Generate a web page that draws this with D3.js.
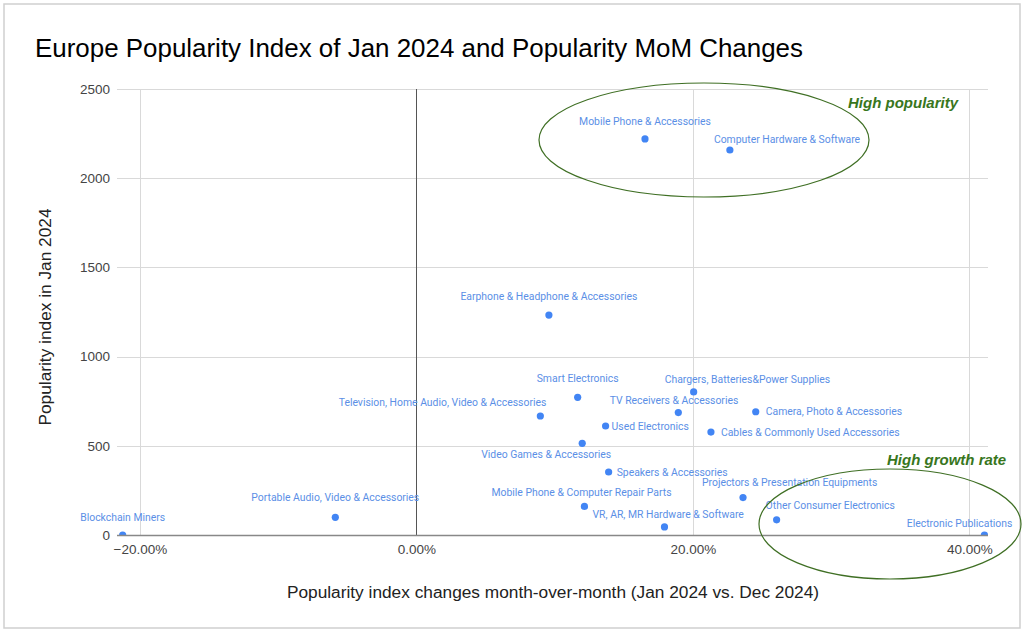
<!DOCTYPE html>
<html>
<head>
<meta charset="utf-8">
<script src="https://cdn.jsdelivr.net/npm/d3@7"></script>
<style>
  html, body { margin: 0; padding: 0; background: #fff; }
  svg { display: block; font-family: "Liberation Sans", Arial, sans-serif; }
</style>
</head>
<body>
<svg id="chart" width="1024" height="634"></svg>
<script>
// ---- data ----
const categories = [
  "Mobile Phone & Accessories",
  "Computer Hardware & Software",
  "Earphone & Headphone & Accessories",
  "Smart Electronics",
  "Television, Home Audio, Video & Accessories",
  "Used Electronics",
  "Video Games & Accessories",
  "Chargers, Batteries&Power Supplies",
  "TV Receivers & Accessories",
  "Camera, Photo & Accessories",
  "Cables & Commonly Used Accessories",
  "Speakers & Accessories",
  "Projectors & Presentation Equipments",
  "Mobile Phone & Computer Repair Parts",
  "VR, AR, MR Hardware & Software",
  "Other Consumer Electronics",
  "Electronic Publications",
  "Portable Audio, Video & Accessories",
  "Blockchain Miners"
];
const momChange = [0.1653, 0.2267, 0.0958, 0.1166, 0.0896, 0.1368, 0.1199, 0.2005, 0.1894, 0.2454, 0.2130, 0.1390, 0.2362, 0.1215, 0.1794, 0.2605, 0.4108, -0.0587, -0.2125];
const popularity = [2220, 2158, 1233, 772, 667, 611, 514, 802, 686, 691, 577, 353, 210, 160, 45, 85, 0, 99, 0];
const xTicks = [-0.2, 0, 0.2, 0.4];
const yTicks = [0, 500, 1000, 1500, 2000, 2500];
const annotations = ["High popularity", "High growth rate"];

// ---- label placement (layout only): [anchor, dx, dy] relative to the point ----
const labelPlacement = {
  "Mobile Phone & Accessories": ["middle", 0, -18],
  "Computer Hardware & Software": ["start", -16, -11],
  "Earphone & Headphone & Accessories": ["middle", 0, -19],
  "Smart Electronics": ["middle", 0, -19],
  "Television, Home Audio, Video & Accessories": ["end", 6, -14],
  "Used Electronics": ["start", 6, 0],
  "Video Games & Accessories": ["end", 29, 11],
  "Chargers, Batteries&Power Supplies": ["start", -29, -13],
  "TV Receivers & Accessories": ["end", 60, -12],
  "Camera, Photo & Accessories": ["start", 10, 0],
  "Cables & Commonly Used Accessories": ["start", 10, 0],
  "Speakers & Accessories": ["start", 8, 0],
  "Projectors & Presentation Equipments": ["start", -41, -15],
  "Mobile Phone & Computer Repair Parts": ["start", -93, -14],
  "VR, AR, MR Hardware & Software": ["start", -72, -13],
  "Other Consumer Electronics": ["start", -11, -14],
  "Electronic Publications": ["end", 28, -12],
  "Portable Audio, Video & Accessories": ["middle", 0, -20],
  "Blockchain Miners": ["middle", 0, -18]
};

const svg = d3.select("#chart");
const plot = { left: 117, right: 988, top: 89, bottom: 535 };

const x = d3.scaleLinear().domain([-0.2166, 0.4134]).range([plot.left, plot.right]);
const y = d3.scaleLinear().domain([0, 2500]).range([plot.bottom, plot.top]);

// outer frame
svg.append("rect").attr("x", 4).attr("y", 4).attr("width", 1016).attr("height", 624)
  .attr("fill", "#fff").attr("stroke", "#cfcfcf").attr("stroke-width", 1.5);

// title
svg.append("text").attr("x", 35).attr("y", 57)
  .attr("font-size", 25.5).attr("fill", "#000")
  .attr("textLength", 768).attr("lengthAdjust", "spacingAndGlyphs")
  .text("Europe Popularity Index of Jan 2024 and Popularity MoM Changes");

// grid
const grid = svg.append("g");
grid.selectAll("line.h").data(yTicks.filter(d => d > 0)).join("line")
  .attr("x1", plot.left).attr("x2", plot.right)
  .attr("y1", d => Math.round(y(d)) + 0.5).attr("y2", d => Math.round(y(d)) + 0.5)
  .attr("stroke", "#d9d9d9").attr("stroke-width", 1);
grid.selectAll("line.v").data(xTicks.filter(d => d !== 0)).join("line")
  .attr("y1", plot.top).attr("y2", plot.bottom)
  .attr("x1", d => Math.round(x(d)) + 0.5).attr("x2", d => Math.round(x(d)) + 0.5)
  .attr("stroke", "#d9d9d9").attr("stroke-width", 1);

// axes via d3
const xAxis = d3.axisBottom(x).tickValues(xTicks).tickFormat(d3.format(".2%")).tickSize(0).tickPadding(9);
const gx = svg.append("g").attr("transform", `translate(0,${plot.bottom})`).call(xAxis);
gx.select(".domain").remove();
gx.selectAll("text").attr("font-size", 13.5).attr("fill", "#444").attr("font-family", "Liberation Sans, Arial, sans-serif");

const yAxis = d3.axisLeft(y).tickValues(yTicks).tickFormat(d3.format("d")).tickSize(0).tickPadding(7);
const gy = svg.append("g").attr("transform", `translate(${plot.left},0)`).call(yAxis);
gy.select(".domain").remove();
gy.selectAll("text").attr("font-size", 13.5).attr("fill", "#444").attr("font-family", "Liberation Sans, Arial, sans-serif");

// zero line
svg.append("line").attr("x1", Math.round(x(0)) + 0.5).attr("x2", Math.round(x(0)) + 0.5)
  .attr("y1", plot.top).attr("y2", plot.bottom).attr("stroke", "#555").attr("stroke-width", 1);

// clip
svg.append("clipPath").attr("id", "clip").append("rect")
  .attr("x", plot.left).attr("y", plot.top).attr("width", plot.right - plot.left).attr("height", plot.bottom - plot.top);

const rows = categories.map((c, i) => ({ name: c, mom: momChange[i], pop: popularity[i] }));

svg.append("g").attr("clip-path", "url(#clip)")
  .selectAll("circle").data(rows).join("circle")
  .attr("cx", d => x(d.mom)).attr("cy", d => y(d.pop)).attr("r", 3.6)
  .attr("fill", "#4285f4");

svg.append("line").attr("x1", plot.left).attr("x2", plot.right)
  .attr("y1", plot.bottom + 0.5).attr("y2", plot.bottom + 0.5).attr("stroke", "#888").attr("stroke-width", 1.5);

// point labels
svg.append("g").selectAll("text").data(rows).join("text")
  .attr("x", d => x(d.mom) + labelPlacement[d.name][1])
  .attr("y", d => y(d.pop) + labelPlacement[d.name][2])
  .attr("dy", "0.35em")
  .attr("text-anchor", d => labelPlacement[d.name][0])
  .attr("font-family", "Roboto, 'Noto Sans', sans-serif")
  .attr("font-size", 10.4)
  .attr("fill", "#5b8fe6")
  .text(d => d.name);

// axis titles
svg.append("text").attr("x", 553).attr("y", 598).attr("text-anchor", "middle")
  .attr("font-size", 17.3).attr("fill", "#222")
  .text("Popularity index changes month-over-month (Jan 2024 vs. Dec 2024)");
svg.append("text").attr("transform", "translate(51,317) rotate(-90)").attr("text-anchor", "middle")
  .attr("font-size", 17.3).attr("fill", "#222")
  .text("Popularity index in Jan 2024");

// annotation ellipses and labels
const green = "#38761d";
svg.append("ellipse").attr("cx", 704).attr("cy", 140).attr("rx", 165).attr("ry", 57)
  .attr("fill", "none").attr("stroke", "#3f6f24").attr("stroke-width", 1.2);
svg.append("ellipse").attr("cx", 890).attr("cy", 524).attr("rx", 131).attr("ry", 55)
  .attr("fill", "none").attr("stroke", "#3f6f24").attr("stroke-width", 1.2);
svg.append("text").attr("x", 848).attr("y", 108).attr("font-size", 15)
  .attr("font-weight", "bold").attr("font-style", "italic").attr("fill", green).text(annotations[0]);
svg.append("text").attr("x", 887).attr("y", 465).attr("font-size", 15)
  .attr("font-weight", "bold").attr("font-style", "italic").attr("fill", green).text(annotations[1]);
</script>
</body>
</html>
